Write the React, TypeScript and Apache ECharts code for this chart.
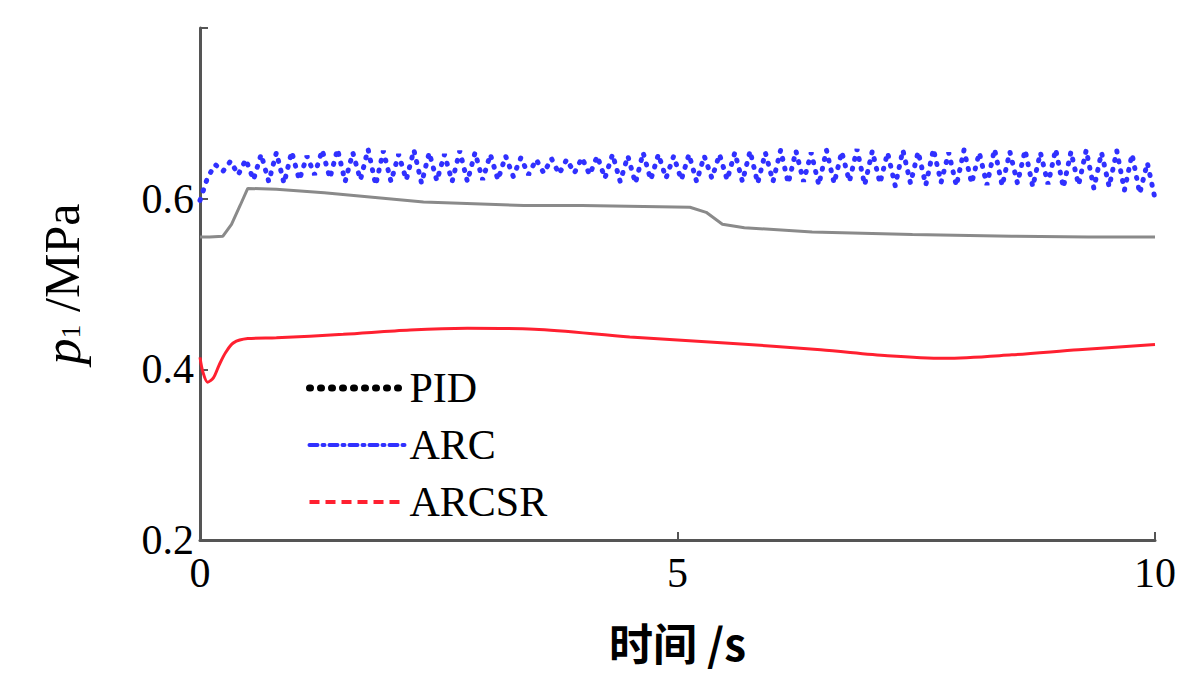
import React, { useEffect, useRef } from "react";
import * as echarts from "echarts";

const X_TICKS = [0, 5, 10];
const Y_TICK_LABELS = ["0.2", "0.4", "0.6"];

const PID_T = [0, 0.1, 0.24, 0.33, 0.42, 0.5, 0.8, 1.3, 2.34, 3.39, 4.0, 5.13, 5.3, 5.47, 5.7, 6.41, 7.46, 8.5, 9.3, 10];
const PID_V = [0.555, 0.555, 0.556, 0.57, 0.592, 0.612, 0.611, 0.607, 0.596, 0.592, 0.592, 0.59, 0.584, 0.57, 0.566, 0.561, 0.558, 0.556, 0.555, 0.555];

const ARCSR_T = [0, 0.03, 0.08, 0.14, 0.2, 0.27, 0.35, 0.5, 0.8, 1.5, 2.2, 2.8, 3.5, 4.5, 5.5, 6.5, 7.2, 7.8, 8.5, 9.2, 10];
const ARCSR_V = [0.414, 0.397, 0.385, 0.39, 0.405, 0.42, 0.431, 0.436, 0.437, 0.441, 0.446, 0.448, 0.447, 0.438, 0.431, 0.423, 0.416, 0.413, 0.417, 0.423, 0.429];

// ARC sampled every 0.08 s
const ARC_DT = 0.08;
const ARC_V = [
  0.598, 0.625, 0.64, 0.632, 0.644, 0.628, 0.646, 0.622, 0.652, 0.62,
  0.654, 0.618, 0.655, 0.622, 0.65, 0.628, 0.657, 0.624, 0.658, 0.62,
  0.654, 0.622, 0.658, 0.616, 0.656, 0.62, 0.652, 0.622, 0.657, 0.618,
  0.654, 0.621, 0.652, 0.62, 0.656, 0.62, 0.654, 0.622, 0.652, 0.622,
  0.65, 0.626, 0.648, 0.628, 0.646, 0.63, 0.647, 0.629, 0.646, 0.63,
  0.648, 0.628, 0.65, 0.624, 0.652, 0.62, 0.65, 0.618, 0.654, 0.622,
  0.652, 0.624, 0.65, 0.622, 0.652, 0.62, 0.65, 0.624, 0.652, 0.622,
  0.654, 0.62, 0.656, 0.618, 0.654, 0.62, 0.657, 0.618, 0.656, 0.62,
  0.654, 0.616, 0.657, 0.618, 0.655, 0.62, 0.658, 0.616, 0.656, 0.618,
  0.654, 0.615, 0.657, 0.618, 0.655, 0.616, 0.658, 0.619, 0.654, 0.615,
  0.657, 0.618, 0.654, 0.616, 0.658, 0.615, 0.655, 0.618, 0.657, 0.614,
  0.654, 0.617, 0.658, 0.613, 0.655, 0.616, 0.657, 0.612, 0.654, 0.614,
  0.656, 0.61, 0.652, 0.606, 0.642, 0.6,
];

const SERIF = "'Liberation Serif', 'DejaVu Serif', serif";

export default function App() {
  const ref = useRef<HTMLDivElement>(null);
  useEffect(() => {
    if (!ref.current) return;
    const chart = echarts.init(ref.current, undefined, { renderer: "svg" });
    const pid = PID_T.map((t, i) => [t, PID_V[i]]);
    const sr = ARCSR_T.map((t, i) => [t, ARCSR_V[i]]);
    const arc = ARC_V.map((v, i) => [Math.round(i * ARC_DT * 100) / 100, v]);
    chart.setOption({
      animation: false,
      backgroundColor: "#fff",
      grid: { left: 192, right: 37, top: 20, bottom: 138 },
      legend: {
        orient: "vertical",
        left: 293,
        top: 354,
        itemWidth: 95,
        itemHeight: 14,
        itemGap: 15,
        textStyle: { fontFamily: SERIF, fontSize: 42, color: "#000", lineHeight: 40 },
        data: [
          { name: "PID", itemStyle: { opacity: 0 }, lineStyle: { color: "#000", type: [1, 10], width: 7, cap: "round" } },
          { name: "ARC", itemStyle: { opacity: 0 }, lineStyle: { color: "#3030ff", type: [8, 5, 2, 5], width: 4 } },
          { name: "ARCSR", itemStyle: { opacity: 0 }, lineStyle: { color: "#ff2030", type: [10, 6], width: 4 } },
        ],
      },
      xAxis: {
        type: "value",
        min: 0,
        max: 10,
        interval: 5,
        name: "时间 /s",
        nameLocation: "middle",
        nameGap: 80,
        nameTextStyle: { fontFamily: "'Noto Sans CJK SC', sans-serif", fontSize: 44, fontWeight: "bold", color: "#000" },
        axisLine: { lineStyle: { color: "#555", width: 3 } },
        axisTick: { inside: true, length: 8, lineStyle: { color: "#555", width: 2 } },
        axisLabel: {
          fontFamily: SERIF,
          fontSize: 42,
          color: "#000",
          margin: 12,
          formatter: (v: number) => (X_TICKS.includes(v) ? String(v) : ""),
        },
        splitLine: { show: false },
      },
      yAxis: {
        type: "value",
        min: 0.2,
        max: 0.8,
        interval: 0.2,
        name: "{p|p}{s|1}{n| /MPa}",
        nameLocation: "middle",
        nameGap: 112,
        nameRotate: 90,
        nameTextStyle: {
          color: "#000",
          rich: {
            p: { fontFamily: SERIF, fontStyle: "italic", fontSize: 52, color: "#000" },
            s: { fontFamily: SERIF, fontSize: 28, color: "#000", padding: [16, 0, 0, 0] },
            n: { fontFamily: SERIF, fontSize: 50, color: "#000" },
          },
        },
        axisLine: { lineStyle: { color: "#555", width: 3 } },
        axisTick: { inside: true, length: 8, lineStyle: { color: "#555", width: 2 } },
        axisLabel: {
          fontFamily: SERIF,
          fontSize: 42,
          color: "#000",
          margin: 6,
          formatter: (v: number) => {
            const s = v.toFixed(1);
            return Y_TICK_LABELS.includes(s) ? s : "";
          },
        },
        splitLine: { show: false },
      },
      series: [
        {
          name: "PID",
          type: "line",
          data: pid,
          symbol: "none",
          lineStyle: { color: "#8a8a8a", width: 3 },
          itemStyle: { color: "#000" },
          z: 2,
        },
        {
          name: "ARC",
          type: "line",
          data: arc,
          symbol: "none",
          lineStyle: { color: "#3030ff", width: 5, type: [1, 9], cap: "round" },
          itemStyle: { color: "#3030ff" },
          z: 3,
        },
        {
          name: "ARCSR",
          type: "line",
          data: sr,
          symbol: "none",
          smooth: 0.3,
          lineStyle: { color: "#ff2030", width: 3 },
          itemStyle: { color: "#ff2030" },
          z: 4,
        },
      ],
    });
    return () => chart.dispose();
  }, []);
  return <div ref={ref} style={{ width: 1184, height: 670 }} />;
}
